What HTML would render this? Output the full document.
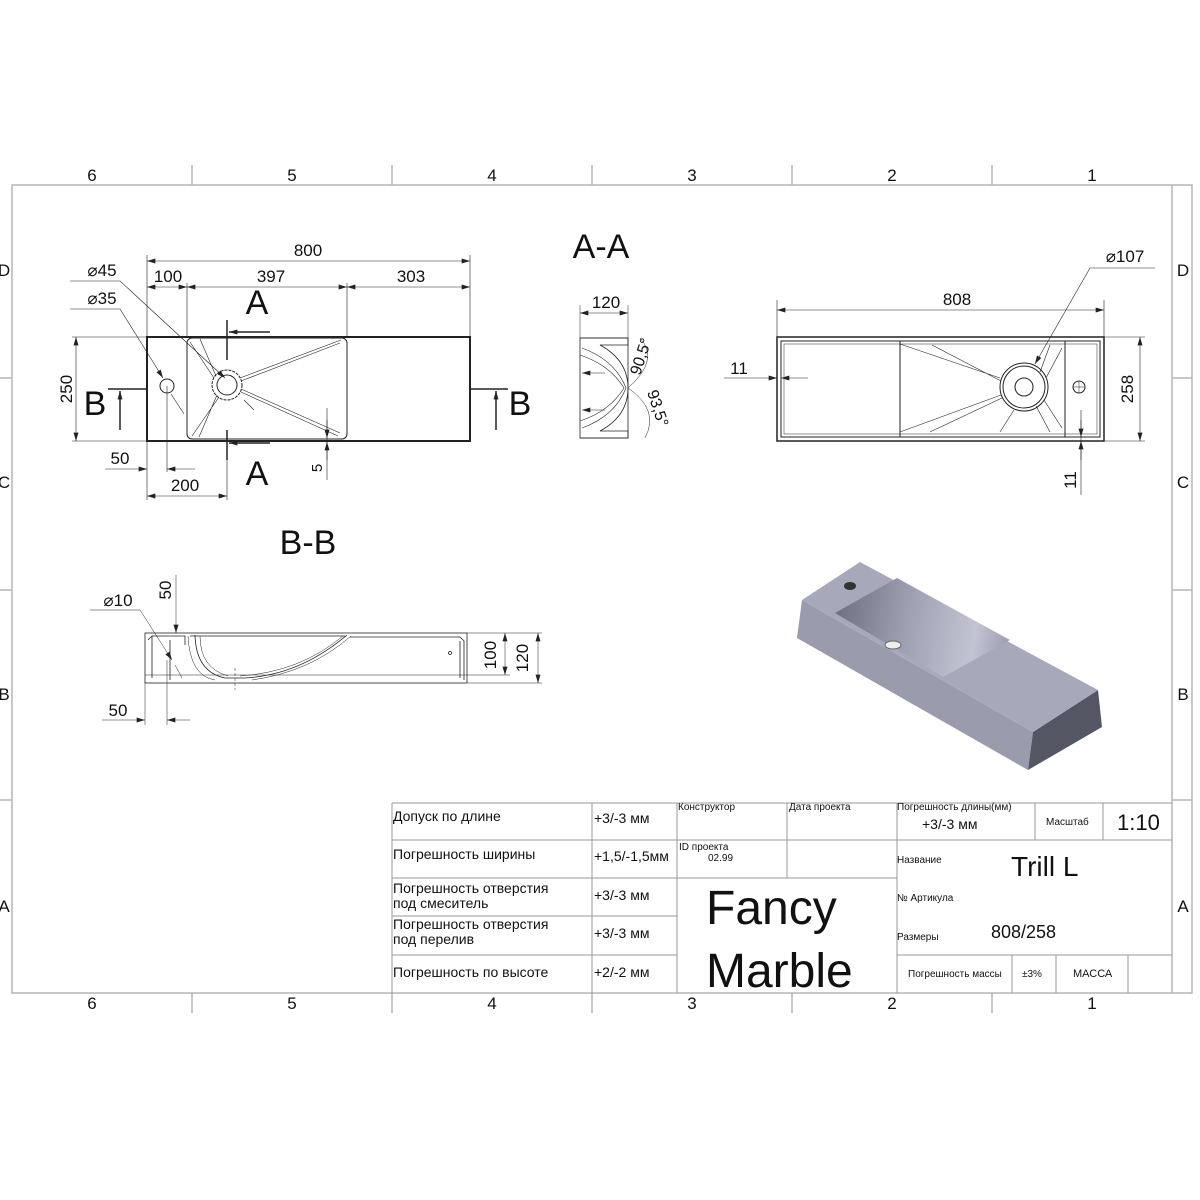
<!DOCTYPE html>
<html><head><meta charset="utf-8"><style>
html,body{margin:0;padding:0;background:#fff;}
svg{display:block;}
text{font-family:"Liberation Sans",sans-serif;fill:#111;}
.t{font-family:"Liberation Sans Narrow","Liberation Sans",sans-serif;}
</style></head><body>
<svg width="1200" height="1200" viewBox="0 0 1200 1200" xmlns="http://www.w3.org/2000/svg">
<defs>
<marker id="ar" viewBox="0 0 10 6" refX="10" refY="3" markerWidth="10" markerHeight="5" orient="auto-start-reverse" markerUnits="userSpaceOnUse"><path d="M0,0 L10,3 L0,6 z" fill="#222"/></marker>
<linearGradient id="bg1" x1="835" y1="613" x2="1010" y2="640" gradientUnits="userSpaceOnUse"><stop offset="0" stop-color="#6f7183"/><stop offset="0.45" stop-color="#a3a5b7"/><stop offset="0.8" stop-color="#c2c4d2"/><stop offset="1" stop-color="#9c9eb0"/></linearGradient>
</defs>
<g stroke="#b5b5b5" stroke-width="1.5" fill="none">
<rect x="12" y="185" width="1180" height="808"/>
<line x1="1172" y1="185" x2="1172" y2="993"/>
<line x1="192" y1="165" x2="192" y2="185"/><line x1="392" y1="165" x2="392" y2="185"/><line x1="592" y1="165" x2="592" y2="185"/><line x1="792" y1="165" x2="792" y2="185"/><line x1="992" y1="165" x2="992" y2="185"/>
<line x1="192" y1="993" x2="192" y2="1013"/><line x1="392" y1="993" x2="392" y2="1013"/><line x1="592" y1="993" x2="592" y2="1013"/><line x1="792" y1="993" x2="792" y2="1013"/><line x1="992" y1="993" x2="992" y2="1013"/>
<line x1="0" y1="378" x2="12" y2="378"/><line x1="0" y1="590" x2="12" y2="590"/><line x1="0" y1="800" x2="12" y2="800"/>
<line x1="1172" y1="378" x2="1192" y2="378"/><line x1="1172" y1="590" x2="1192" y2="590"/><line x1="1172" y1="800" x2="1192" y2="800"/>
</g>
<g font-size="17" text-anchor="middle">
<text x="92" y="181">6</text><text x="292" y="181">5</text><text x="492" y="181">4</text><text x="692" y="181">3</text><text x="892" y="181">2</text><text x="1092" y="181">1</text>
<text x="92" y="1009">6</text><text x="292" y="1009">5</text><text x="492" y="1009">4</text><text x="692" y="1009">3</text><text x="892" y="1009">2</text><text x="1092" y="1009">1</text>
<text x="4" y="276">D</text><text x="4" y="488">C</text><text x="4" y="700">B</text><text x="4" y="912">A</text>
<text x="1183" y="276">D</text><text x="1183" y="488">C</text><text x="1183" y="700">B</text><text x="1183" y="912">A</text>
</g>

<g stroke="#222" fill="none" stroke-width="1">
<rect x="147" y="337" width="323" height="104" stroke-width="2"/>
<rect x="187" y="338" width="160" height="101" rx="5"/>
<circle cx="227" cy="385" r="15" stroke-dasharray="3,1"/><circle cx="227" cy="385" r="10"/>
<circle cx="167" cy="386" r="7"/>
<g stroke-width="0.6">
<path d="M240,378 L341,340 M241,381 L340,343 M241,392 L338,436 M241,389 L340,433 M219,397 L192,436 M217,395 L199,437 M214,378 L190,342 M216,376 L200,339"/>
</g>
<g stroke-width="0.6">
<line x1="147" y1="255" x2="147" y2="337"/><line x1="470" y1="255" x2="470" y2="337"/>
<line x1="187" y1="283" x2="187" y2="337"/><line x1="347" y1="283" x2="347" y2="337"/>
<line x1="147" y1="261" x2="470" y2="261" marker-start="url(#ar)" marker-end="url(#ar)"/>
<line x1="147" y1="287" x2="187" y2="287" marker-start="url(#ar)" marker-end="url(#ar)"/>
<line x1="187" y1="287" x2="347" y2="287" marker-start="url(#ar)" marker-end="url(#ar)"/>
<line x1="347" y1="287" x2="470" y2="287" marker-start="url(#ar)" marker-end="url(#ar)"/>
<line x1="72" y1="337" x2="147" y2="337"/><line x1="72" y1="441" x2="147" y2="441"/>
<line x1="76" y1="337" x2="76" y2="441" marker-start="url(#ar)" marker-end="url(#ar)"/>
<line x1="147" y1="441" x2="147" y2="500"/><line x1="167" y1="386" x2="167" y2="472"/><line x1="227" y1="441" x2="227" y2="500"/>
<line x1="105" y1="469" x2="147" y2="469" marker-end="url(#ar)"/><line x1="167" y1="469" x2="195" y2="469" marker-start="url(#ar)"/>
<line x1="147" y1="496" x2="227" y2="496" marker-start="url(#ar)" marker-end="url(#ar)"/>
<line x1="327" y1="408" x2="327" y2="480"/>
<line x1="327" y1="420" x2="327" y2="438" marker-end="url(#ar)"/><line x1="327" y1="460" x2="327" y2="442" marker-end="url(#ar)"/>
<path d="M70,281 L120,281 L225,378" marker-end="url(#ar)"/><line x1="244" y1="400" x2="254" y2="410"/>
<path d="M70,309 L120,309 L163,378" marker-end="url(#ar)"/><line x1="171" y1="394" x2="184" y2="414"/>
</g>
<line x1="227" y1="320" x2="227" y2="360" stroke-width="1.5"/>
<line x1="227" y1="430" x2="227" y2="460" stroke-width="1.5"/>
<line x1="270" y1="332" x2="229" y2="332" stroke-width="1.5" marker-end="url(#ar)"/>
<line x1="270" y1="443" x2="229" y2="443" stroke-width="1.5" marker-end="url(#ar)"/>
<line x1="108" y1="389" x2="147" y2="389" stroke-width="1.5"/><line x1="470" y1="389" x2="508" y2="389" stroke-width="1.5"/>
<line x1="120" y1="430" x2="120" y2="391" stroke-width="1.5" marker-end="url(#ar)"/>
<line x1="496" y1="430" x2="496" y2="391" stroke-width="1.5" marker-end="url(#ar)"/>
</g>
<g font-size="17" text-anchor="middle">
<text x="308" y="256">800</text><text x="168" y="282">100</text><text x="271" y="282">397</text><text x="411" y="282">303</text>
<text x="102" y="276">⌀45</text><text x="102" y="304">⌀35</text>
<text x="120" y="464">50</text><text x="185" y="491">200</text>
<text transform="translate(72,389) rotate(-90)">250</text>
<text transform="translate(322,468) rotate(-90)" font-size="15">5</text>
</g>
<g font-size="34" text-anchor="middle">
<text x="257" y="314">A</text><text x="257" y="485">A</text>
<text x="95" y="415">B</text><text x="520" y="415">B</text>
<text x="601" y="258">A-A</text><text x="308" y="554">B-B</text>
</g>

<g stroke="#222" fill="none" stroke-width="0.8">
<rect x="580" y="338" width="48" height="100"/>
<path d="M580,338 L628,338 L628,345 L600,345 Q628,360 628,388 Q628,416 600,431 L628,431 L628,438 L580,438"/>
<path d="M582,348 Q615,360 626,388 Q615,416 582,428" stroke-width="0.6"/>
<path d="M580,355 Q610,365 624,388 Q610,411 580,421" stroke-width="0.6"/>
<g stroke-width="0.5"><line x1="580" y1="305" x2="580" y2="338"/><line x1="628" y1="305" x2="628" y2="338"/>
<line x1="580" y1="313" x2="628" y2="313" marker-start="url(#ar)" marker-end="url(#ar)"/>
<path d="M640,338 Q660,360 628,388" /><path d="M645,438 Q660,410 628,388"/>
<line x1="605" y1="373" x2="582" y2="373" marker-end="url(#ar)"/><line x1="605" y1="410" x2="582" y2="410" marker-end="url(#ar)"/>
</g></g>
<text x="606" y="308" font-size="17" text-anchor="middle">120</text>
<text transform="translate(640,376) rotate(-72)" font-size="16">90,5°</text>
<text transform="translate(647,392) rotate(72)" font-size="16">93,5°</text>

<g stroke="#222" fill="none" stroke-width="1">
<rect x="777" y="337" width="327" height="104" stroke-width="1.5"/>
<rect x="781" y="341" width="319" height="96"/>
<rect x="784" y="344" width="313" height="90" stroke-width="0.5"/>
<line x1="900" y1="341" x2="900" y2="437"/><line x1="1065" y1="341" x2="1065" y2="437"/>
<circle cx="1024" cy="387" r="24"/><circle cx="1024" cy="387" r="21"/><circle cx="1024" cy="387" r="9"/>
<circle cx="1079" cy="387" r="6"/><line x1="1073" y1="387" x2="1085" y2="387" stroke-width="0.5"/><line x1="1079" y1="381" x2="1079" y2="393" stroke-width="0.5"/>
<g stroke-width="0.6"><path d="M900,344 L1000,378 M932,345 L1001,381 M900,432 L1001,395 M930,432 L1002,398 M1046,378 L1062,348 M1040,372 L1050,345 M1044,400 L1062,428 M1036,406 L1050,432"/>
<line x1="777" y1="300" x2="777" y2="337"/><line x1="1104" y1="300" x2="1104" y2="337"/>
<line x1="777" y1="310" x2="1104" y2="310" marker-start="url(#ar)" marker-end="url(#ar)"/>
<line x1="1104" y1="337" x2="1145" y2="337"/><line x1="1104" y1="441" x2="1145" y2="441"/>
<line x1="1140" y1="337" x2="1140" y2="441" marker-start="url(#ar)" marker-end="url(#ar)"/>
<line x1="724" y1="378" x2="777" y2="378" marker-end="url(#ar)"/><line x1="808" y1="378" x2="781" y2="378" marker-end="url(#ar)"/>
<line x1="1081" y1="410" x2="1081" y2="495"/>
<line x1="1081" y1="420" x2="1081" y2="437" marker-end="url(#ar)"/><line x1="1081" y1="460" x2="1081" y2="441" marker-end="url(#ar)"/>
<path d="M1155,268 L1090,268 L1035,364" marker-end="url(#ar)"/><line x1="1014" y1="410" x2="1000" y2="432"/>
</g></g>
<g font-size="17" text-anchor="middle">
<text x="957" y="305">808</text><text x="739" y="374">11</text><text x="1125" y="262">⌀107</text>
<text transform="translate(1133,389) rotate(-90)">258</text>
<text transform="translate(1076,480) rotate(-90)">11</text>
</g>

<g stroke="#222" fill="none" stroke-width="0.8">
<rect x="145" y="633" width="322" height="50"/>
<line x1="145" y1="675" x2="467" y2="675" stroke-width="0.5"/>
<path d="M148,640 L152,636 L185,636 L185,645 M190,636 L345,636 M350,637 L460,637 L464,641 L464,680" />
<path d="M152,636 L152,678 M460,641 L460,678 M170,640 L170,680"/>
<path d="M195,635 Q196,672 225,678 L245,678 Q300,675 347,635" />
<path d="M188,636 Q190,676 215,680 M200,636 Q200,668 228,676 M240,676 Q300,672 343,636 M252,680 Q310,672 351,636" stroke-width="0.5"/>
<line x1="235" y1="668" x2="235" y2="690" stroke-dasharray="3,2" stroke-width="0.5"/>
<circle cx="450" cy="653" r="1.5"/>
<g stroke-width="0.5">
<line x1="467" y1="633" x2="542" y2="633"/><line x1="467" y1="683" x2="542" y2="683"/><line x1="467" y1="675" x2="510" y2="675"/>
<line x1="505" y1="633" x2="505" y2="675" marker-start="url(#ar)" marker-end="url(#ar)"/>
<line x1="538" y1="633" x2="538" y2="683" marker-start="url(#ar)" marker-end="url(#ar)"/>
<line x1="176" y1="575" x2="176" y2="633" marker-end="url(#ar)"/>
<line x1="145" y1="683" x2="145" y2="725"/><line x1="167" y1="660" x2="167" y2="725"/>
<line x1="102" y1="720" x2="145" y2="720" marker-end="url(#ar)"/><line x1="190" y1="720" x2="167" y2="720" marker-end="url(#ar)"/>
<path d="M90,610 L140,610 L172,660" marker-end="url(#ar)"/><line x1="175" y1="665" x2="182" y2="678"/>
</g></g>
<g font-size="17" text-anchor="middle">
<text x="118" y="606">⌀10</text><text x="118" y="716">50</text>
<text transform="translate(171,590) rotate(-90)">50</text>
<text transform="translate(496,655) rotate(-90)">100</text>
<text transform="translate(528,658) rotate(-90)">120</text>
</g>

<polygon points="802,600 797,638 1028,770 1033,732" fill="#9a9cae"/>
<polygon points="1033,732 1028,770 1102,727 1098,690" fill="#545664"/>
<polygon points="860,562 802,600 1033,732 1098,690" fill="#a7a9bb"/>
<polygon points="835,613 897,578 1010,640 943,677" fill="url(#bg1)"/>
<ellipse cx="893" cy="645" rx="8" ry="4" fill="#eee" stroke="#666"/>
<ellipse cx="850" cy="586" rx="6" ry="4" fill="#333"/>

<g stroke="#999" stroke-width="1" fill="none">
<line x1="392" y1="803" x2="1172" y2="803"/>
<line x1="392" y1="803" x2="392" y2="993"/><line x1="592" y1="803" x2="592" y2="993"/><line x1="677" y1="803" x2="677" y2="993"/>
<line x1="787" y1="803" x2="787" y2="878"/><line x1="897" y1="803" x2="897" y2="993"/>
<line x1="392" y1="840" x2="677" y2="840"/><line x1="392" y1="878" x2="897" y2="878"/><line x1="392" y1="916" x2="677" y2="916"/><line x1="392" y1="955" x2="677" y2="955"/>
<line x1="677" y1="840" x2="897" y2="840"/>
<line x1="897" y1="840" x2="1172" y2="840"/><line x1="897" y1="955" x2="1172" y2="955"/>
<line x1="1035" y1="803" x2="1035" y2="840"/><line x1="1103" y1="803" x2="1103" y2="840"/>
<line x1="1012" y1="955" x2="1012" y2="993"/><line x1="1056" y1="955" x2="1056" y2="993"/><line x1="1128" y1="955" x2="1128" y2="993"/>
</g>
<g class="t" font-size="14">
<text x="393" y="821">Допуск по длине</text>
<text x="393" y="859">Погрешность ширины</text>
<text x="393" y="893">Погрешность отверстия</text><text x="393" y="908">под смеситель</text>
<text x="393" y="929">Погрешность отверстия</text><text x="393" y="944">под перелив</text>
<text x="393" y="977">Погрешность по высоте</text>
<text x="594" y="823">+3/-3 мм</text><text x="594" y="861">+1,5/-1,5мм</text><text x="594" y="900">+3/-3 мм</text><text x="594" y="938">+3/-3 мм</text><text x="594" y="977">+2/-2 мм</text>
<text x="678" y="810" font-size="10">Конструктор</text><text x="789" y="810" font-size="10">Дата проекта</text>
<text x="679" y="850" font-size="10">ID проекта</text><text x="708" y="861" font-size="10">02.99</text>
<text x="897" y="810" font-size="10">Погрешность длины(мм)</text><text x="922" y="829">+3/-3 мм</text>
<text x="1046" y="825" font-size="10">Масштаб</text><text x="1117" y="830" font-size="22">1:10</text>
<text x="897" y="863" font-size="10">Название</text><text x="1011" y="876" font-size="28">Trill L</text>
<text x="897" y="901" font-size="10">№ Артикула</text>
<text x="897" y="940" font-size="10">Размеры</text><text x="991" y="938" font-size="18">808/258</text>
<text x="908" y="977" font-size="10">Погрешность массы</text><text x="1022" y="977" font-size="10">±3%</text><text x="1073" y="977" font-size="11">МАССА</text>
<text x="706" y="924" font-size="48">Fancy</text><text x="706" y="987" font-size="48">Marble</text>
</g>
</svg>
</body></html>
